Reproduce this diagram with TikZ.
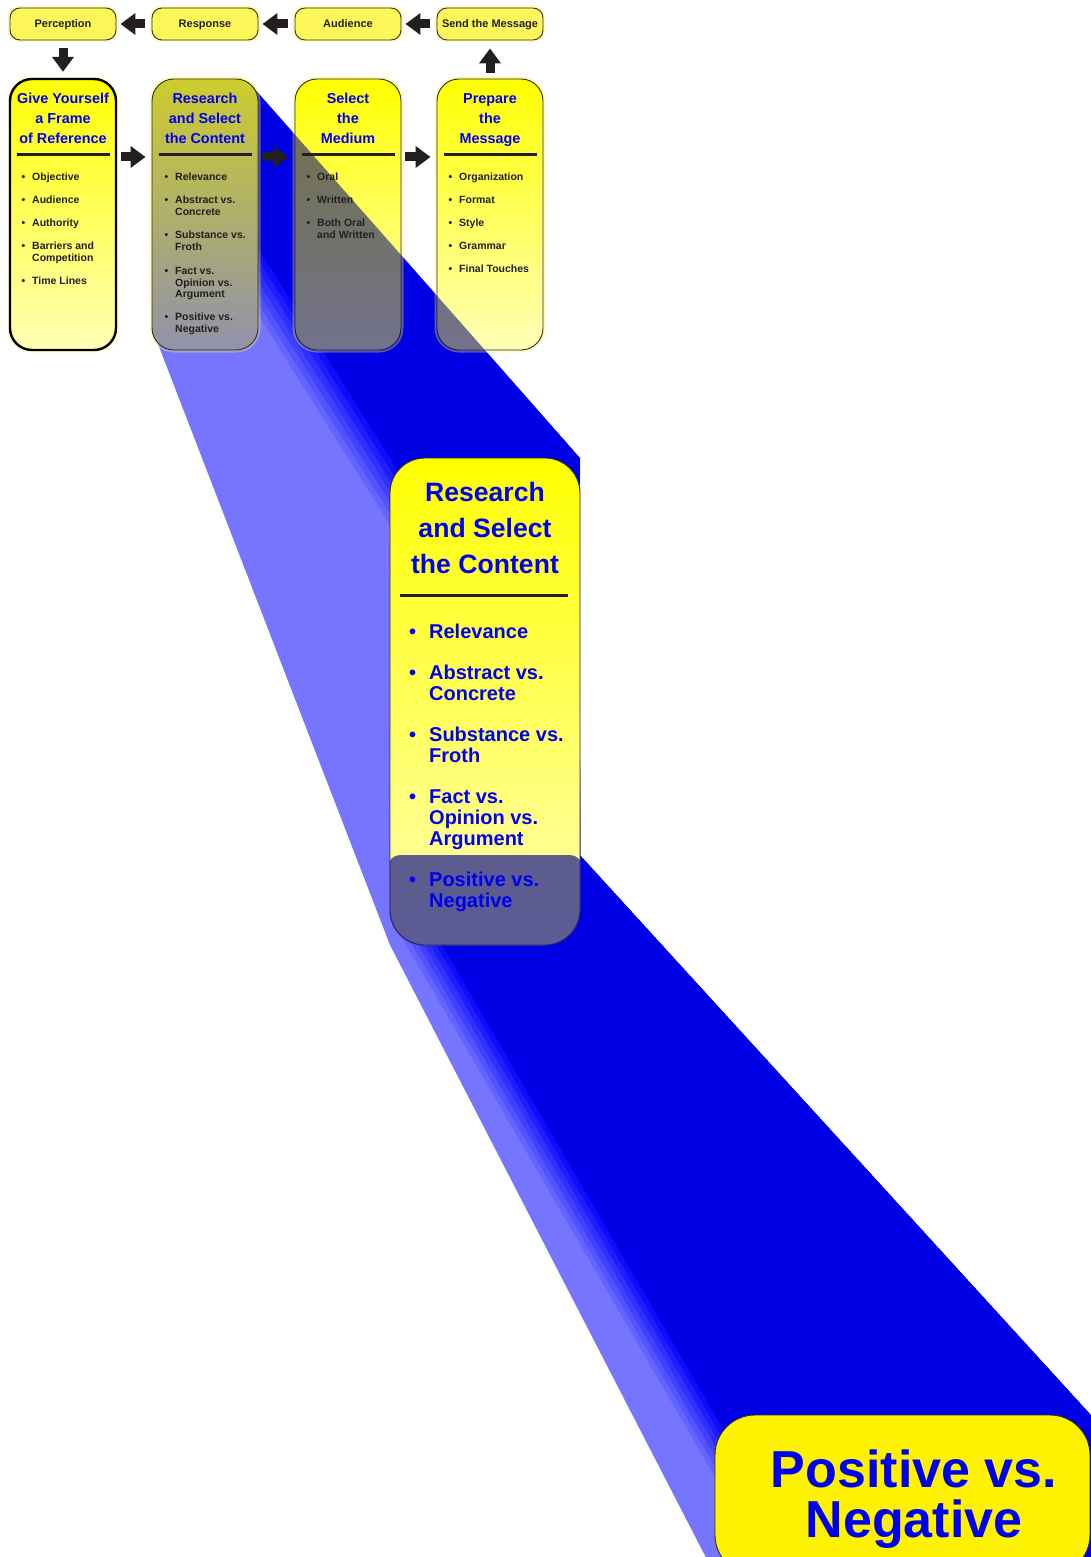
\documentclass[tikz,border=0pt]{standalone}
\usepackage{fontspec}
\setmainfont{Liberation Sans}
\usetikzlibrary{arrows.meta}
\definecolor{beamL}{RGB}{117,117,255}
\definecolor{beamD}{RGB}{0,0,228}
\definecolor{beamB}{RGB}{0,0,255}
\definecolor{tblue}{RGB}{0,0,240}
\definecolor{ink}{RGB}{35,31,32}
\definecolor{edge}{RGB}{45,45,45}
\definecolor{ovl}{RGB}{30,30,140}
\definecolor{seen}{RGB}{20,20,110}
\definecolor{rscTop}{RGB}{205,205,45}
\definecolor{rscBot}{RGB}{145,145,170}
\newcommand{\bu}{\leavevmode\llap{\textbullet\hspace{0.65em}}}
\tikzset{
  glow/.style={preaction={draw=yellow!70, line width=5pt, draw opacity=0.35}},
  smallbox/.style={draw=edge, line width=0.9pt, rounded corners=10pt, fill=yellow!65,
    minimum width=106pt, minimum height=32pt, inner sep=0pt, glow, text=ink,
    text height=8pt, text depth=0pt, font=\fontsize{11}{13}\selectfont\bfseries},
  bigbox/.style={draw=edge, line width=0.9pt, rounded corners=22pt, top color=yellow,
    bottom color=yellow!28, minimum width=106pt, minimum height=271pt, inner sep=0pt, glow},
  midbox/.style={draw=edge, line width=0.9pt, rounded corners=35pt, top color=yellow,
    bottom color=yellow!30, minimum width=190pt, minimum height=487pt, inner sep=0pt},
  finalbox/.style={draw=edge, line width=0.9pt, rounded corners=40pt, fill=yellow,
    minimum width=375pt, minimum height=160pt, inner sep=0pt},
  ttl/.style={anchor=base, inner sep=0pt, text=tblue, font=\fontsize{14.4}{20}\selectfont\bfseries},
  itm/.style={anchor=base west, inner sep=0pt, text=ink, font=\fontsize{10.5}{12}\selectfont\bfseries},
  rule/.style={draw=ink, line width=3pt},
  barrow/.style={draw=ink, line width=9pt, -{Triangle[length=15pt,width=21pt]}},
}
\begin{document}
\begin{tikzpicture}[x=1pt,y=-1pt]
\fill[white] (0,0) rectangle (1091,1557);
\useasboundingbox (0,0) rectangle (1091,1557);

% ---------- upper beam ----------
\begin{scope}
  \clip (158,85) -- (252,86) -- (580,458) -- (580,945) -- (390,945) -- (158,344) -- cycle;
  \fill[beamL] (100,60) rectangle (620,960);
  \foreach \k/\p in {42/15,35/30,28/45,21/60,14/75,7/90}
    \fill[beamB!\p!beamL, xshift=-\k pt] (152,79) -- (252,79) -- (580,458) -- (580,945) -- (696,945) -- cycle;
  \fill[beamD] (152,79) -- (252,79) -- (580,458) -- (580,945) -- (696,945) -- cycle;
\end{scope}

% ---------- lower beam ----------
\begin{scope}
  \clip (390,855) -- (580,855) -- (1091,1415) -- (1091,1575) -- (715,1575) -- (390,945) -- cycle;
  \fill[beamL] (380,840) rectangle (1100,1580);
  \foreach \k/\p in {36/15,30/30,24/45,18/60,12/75,6/90}
    \fill[beamB!\p!beamL, xshift=-\k pt] (390,855) -- (580,855) -- (1091,1415) -- (1091,1575) -- (808,1575) -- cycle;
  \fill[beamD] (390,855) -- (580,855) -- (1091,1415) -- (1091,1575) -- (808,1575) -- cycle;
\end{scope}

% ---------- top row ----------
\node[smallbox] (perc) at (63,24) {Perception};
\node[smallbox] (resp) at (205,24) {Response};
\node[smallbox] (aud)  at (348,24) {Audience};
\node[smallbox] (send) at (490,24) {Send the Message};

% ---------- big boxes ----------
\node[bigbox, draw=black, line width=2.4pt] (give) at (63,214.5) {};
\node[bigbox, top color=rscTop, bottom color=rscBot] (rsc) at (205,214.5) {};
\node[bigbox] (med)  at (348,214.5) {};
\node[bigbox] (prep) at (490,214.5) {};

% beam seen through the boxes
\begin{scope}
  \clip[rounded corners=22pt] (med.south west) rectangle (med.north east)
                              (prep.south west) rectangle (prep.north east);
  \fill[seen, fill opacity=0.6] (158,85) -- (252,86) -- (580,458) -- (580,945) -- (390,945) -- (158,344) -- cycle;
\end{scope}

% ---------- middle and final boxes ----------
\node[midbox] (mid) at (485,701.5) {};
\begin{scope}
  \clip[rounded corners=35pt] (mid.south west) rectangle (mid.north east);
  \fill[ovl, fill opacity=0.72, rounded corners=12pt] (388,855) rectangle (582,960);
\end{scope}
\node[finalbox] (fin) at (902.5,1495) {};

% ---------- rules ----------
\draw[rule] ([shift={(-46,-59.5)}]give.center) -- ++(93,0);
\draw[rule] ([shift={(-46,-59.5)}]rsc.center) -- ++(93,0);
\draw[rule] ([shift={(-46,-59.5)}]med.center) -- ++(93,0);
\draw[rule] ([shift={(-46,-59.5)}]prep.center) -- ++(93,0);
\draw[rule] ([shift={(-85,-106.5)}]mid.center) -- ++(168,0);

% ---------- titles ----------
\node[ttl] (gt) at (63,104) {\parbox[t]{110pt}{\centering Give Yourself\\a Frame\\of Reference}};
\node[ttl] (rt) at (205,104) {\parbox[t]{110pt}{\centering Research\\and Select\\the Content}};
\node[ttl] (mt) at (348,104) {\parbox[t]{110pt}{\centering Select\\the\\Medium}};
\node[ttl] (pt) at (490,104) {\parbox[t]{110pt}{\centering Prepare\\the\\Message}};

% ---------- bullet lists ----------
\node[itm] (gl) at (32,181) {\parbox[t]{100pt}{\raggedright
  \bu Objective\\[11pt]\bu Audience\\[11pt]\bu Authority\\[11pt]\bu Barriers and\\Competition\\[11pt]\bu Time Lines}};
\node[itm] (rl) at (175,181) {\parbox[t]{100pt}{\raggedright
  \bu Relevance\\[11pt]\bu Abstract vs.\\Concrete\\[11pt]\bu Substance vs.\\Froth\\[11pt]\bu Fact vs.\\Opinion vs.\\Argument\\[11pt]\bu Positive vs.\\Negative}};
\node[itm] (ml) at (317,181) {\parbox[t]{100pt}{\raggedright
  \bu Oral\\[11pt]\bu Written\\[11pt]\bu Both Oral\\and Written}};
\node[itm] (pl) at (459,181) {\parbox[t]{100pt}{\raggedright
  \bu Organization\\[11pt]\bu Format\\[11pt]\bu Style\\[11pt]\bu Grammar\\[11pt]\bu Final Touches}};

% ---------- middle box text ----------
\node[ttl, font=\fontsize{26.6}{36}\selectfont\bfseries] (mtt) at (485,501.5)
  {\parbox[t]{190pt}{\centering Research\\and Select\\the Content}};
\node[itm, text=tblue, font=\fontsize{20}{21}\selectfont\bfseries] (mll) at (429,638) {\parbox[t]{160pt}{\raggedright
  \bu Relevance\\[20pt]\bu Abstract vs.\\Concrete\\[20pt]\bu Substance vs.\\Froth\\[20pt]\bu Fact vs.\\Opinion vs.\\Argument\\[20pt]\bu Positive vs.\\Negative}};

% ---------- final box text ----------
\node[ttl, font=\fontsize{52}{50}\selectfont\bfseries] (ft) at (914,1487)
  {\parbox[t]{380pt}{\centering Positive vs.\\Negative}};

% ---------- arrows ----------
\draw[barrow, shorten <=7pt, shorten >=4pt] (resp.west) -- (perc.east);
\draw[barrow, shorten <=7pt, shorten >=4pt] (aud.west) -- (resp.east);
\draw[barrow, shorten <=7pt, shorten >=4pt] (send.west) -- (aud.east);
\draw[barrow, shorten <=8pt, shorten >=6pt] (perc.south) -- (give.north);
\draw[barrow, shorten <=6pt, shorten >=8pt] (prep.north) -- (send.south);
\draw[barrow, shorten <=4pt, shorten >=6pt] ([yshift=57.5pt]give.east) -- ([yshift=57.5pt]rsc.west);
\draw[barrow, shorten <=4pt, shorten >=6pt] ([yshift=57.5pt]rsc.east) -- ([yshift=57.5pt]med.west);
\draw[barrow, shorten <=4pt, shorten >=6pt] ([yshift=57.5pt]med.east) -- ([yshift=57.5pt]prep.west);
\end{tikzpicture}
\end{document}
